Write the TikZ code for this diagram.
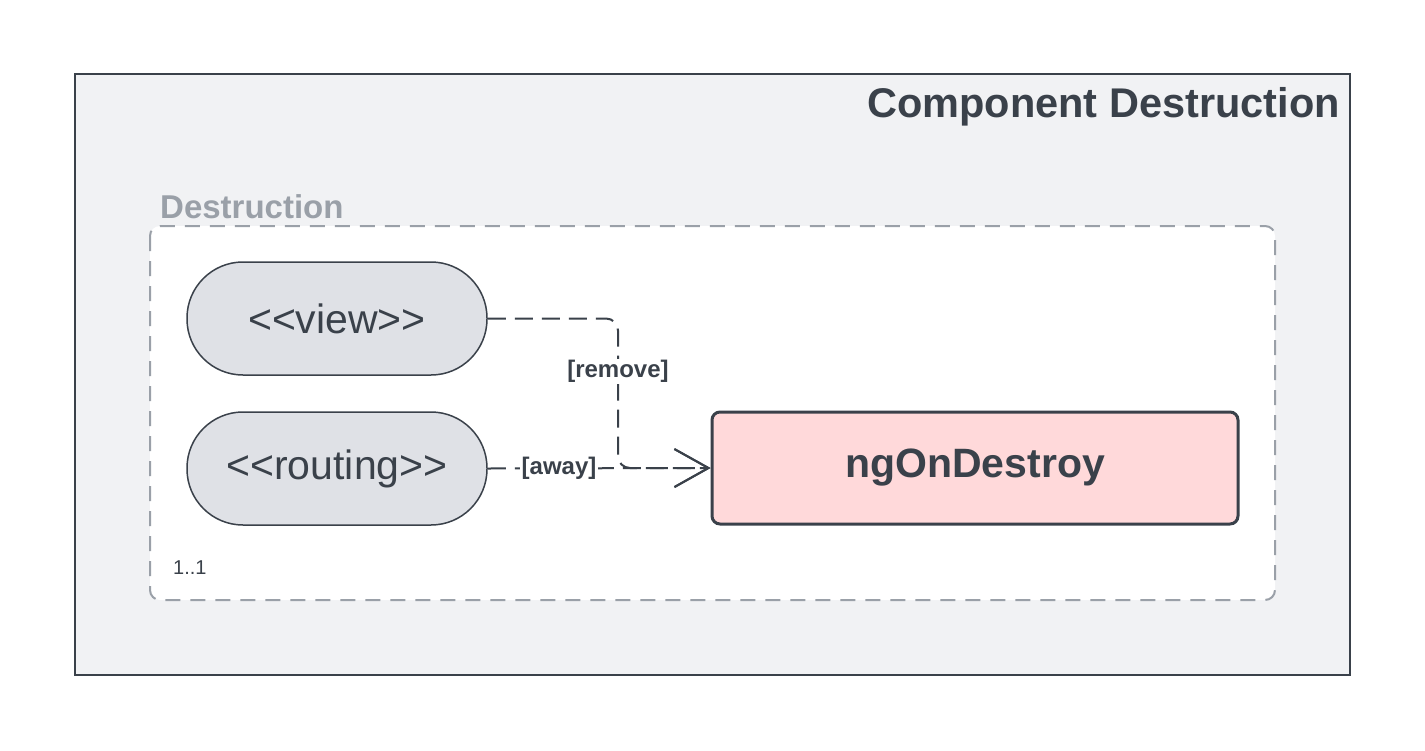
\documentclass[tikz,border=0pt]{standalone}
\usepackage{fontspec}
\setmainfont{Liberation Sans}[Ligatures=TeXOff]
\usetikzlibrary{arrows.meta,calc}
\definecolor{ink}{HTML}{3A414A}
\definecolor{framefill}{HTML}{F1F2F4}
\definecolor{grp}{HTML}{9AA0A8}
\definecolor{pill}{HTML}{DFE1E6}
\definecolor{pinkfill}{HTML}{FFD9DA}
\tikzset{
  pillnode/.style={draw=ink, line width=1.5pt, fill=pill, rounded corners=56pt,
    minimum width=300pt, minimum height=113pt, inner sep=0pt, text=ink,
    font=\fontsize{41}{49}\selectfont},
  opnode/.style={draw=ink, line width=3pt, fill=pinkfill, rounded corners=8pt,
    minimum width=526pt, minimum height=112pt, inner sep=0pt, text=ink,
    font=\fontsize{41}{49}\selectfont\bfseries},
  conn/.style={draw=ink, line width=2pt, dash pattern=on 18pt off 9pt},
  lbl/.style={fill=white, inner sep=1.5pt, text=ink, font=\fontsize{24}{28}\selectfont\bfseries},
}
\begin{document}
\begin{tikzpicture}[x=1pt,y=-1pt]
\useasboundingbox (0,0) rectangle (1425,750);
% outer frame
\path[draw=ink, line width=1.5pt, fill=framefill] (75,74) rectangle (1350,675);
\node[anchor=base east, inner sep=0pt, text=ink, font=\fontsize{41.5}{49}\selectfont\bfseries] (title) at (1340,117) {Component Destruction};
% group
\path[draw=grp, line width=2pt, fill=white, rounded corners=10pt, dash pattern=on 15pt off 10pt] (150,226) rectangle (1275,600);
\node[anchor=base west, inner sep=0pt, text=grp, font=\fontsize{33}{38}\selectfont\bfseries] (grplabel) at (160,218) {Destruction};
\node[anchor=base west, inner sep=0pt, text=ink, font=\fontsize{20}{24}\selectfont] (mult) at (173,574) {1..1};
% nodes
\node[pillnode] (view) at (337,318.5) {<<view>>};
\node[pillnode] (routing) at (337,468.5) {<<routing>>};
\node[opnode] (ngon) at (975,468) {ngOnDestroy};
\coordinate (turn) at (618,318.5);
% connectors
\draw[conn, rounded corners=12pt, -{Straight Barb[length=34pt,width=38pt,line width=2pt]}] (view.east) -- (turn) -- (turn |- ngon.west) -- (ngon.west);
\draw[conn, -{Straight Barb[length=34pt,width=38pt,line width=2pt]}] (routing.east) -- (ngon.west);
\node[lbl] (lremove) at ($(turn)!0.356!(turn |- ngon.west)$) {[remove]};
\node[lbl] (laway) at ($(routing.east)!0.32!(ngon.west)$) {[away]};
\end{tikzpicture}
\end{document}
